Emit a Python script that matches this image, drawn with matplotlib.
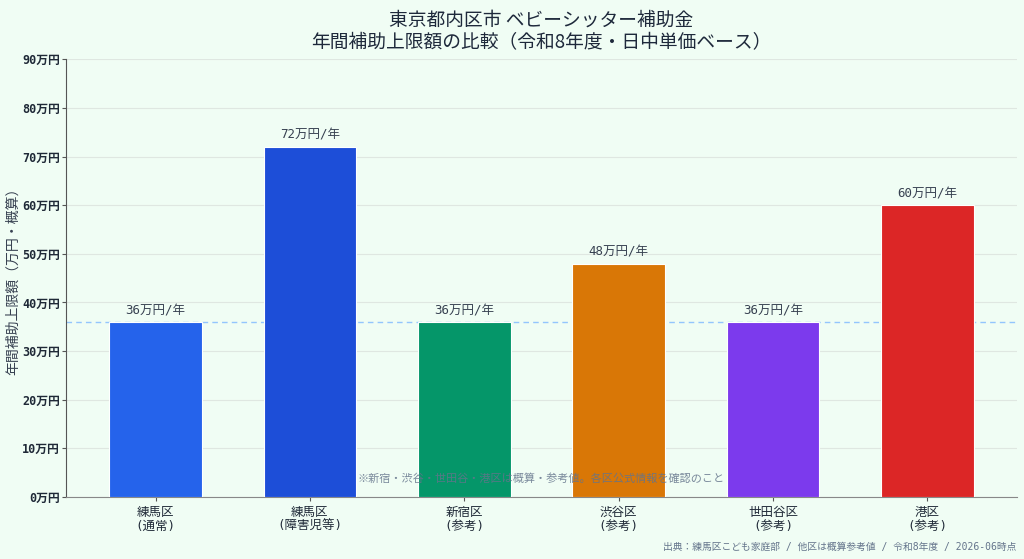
import matplotlib
matplotlib.use("Agg")
import matplotlib.pyplot as plt

categories = ["練馬区\n(通常)", "練馬区\n(障害児等)", "新宿区\n(参考)", "渋谷区\n(参考)", "世田谷区\n(参考)", "港区\n(参考)"]
values = [36, 72, 36, 48, 36, 60]
colors = ["#2563EB", "#1D4ED8", "#059669", "#D97706", "#7C3AED", "#DC2626"]
yticks = [0, 10, 20, 30, 40, 50, 60, 70, 80, 90]
baseline = 36

mono = ["DejaVu Sans Mono", "Noto Sans CJK JP"]
cjk = ["Noto Sans CJK JP", "DejaVu Sans"]
plt.rcParams["font.family"] = cjk

bg = "#F0FDF4"
fig = plt.figure(figsize=(10.24, 5.59), dpi=100, facecolor=bg)
ax = fig.add_axes([0.0645, 0.111, 0.9285, 0.783])
ax.set_facecolor(bg)

x = list(range(len(categories)))
bars = ax.bar(x, values, width=0.6, color=colors, edgecolor="white", linewidth=0.8, zorder=3)
ax.axhline(baseline, color="#93C5FD", linestyle=(0, (4, 3)), linewidth=1.0, zorder=2)

for xi, v in zip(x, values):
    ax.text(xi, v + 1.0, f"{v}万円/年", ha="center", va="bottom", fontsize=9,
            color="#374151", family=mono, zorder=4)

ax.set_ylim(0, 90)
ax.set_yticks(yticks)
ax.set_yticklabels([f"{t}万円" for t in yticks], family=mono, fontsize=8.5,
                   color="#1f2937", fontweight="bold")
ax.set_xticks(x)
ax.set_xticklabels(categories, family=mono, fontsize=9, color="#1f2937", linespacing=1.1)
ax.grid(axis="y", color="#dfe7e1", linewidth=0.8, zorder=0)
ax.set_axisbelow(True)
for s in ["top", "right"]:
    ax.spines[s].set_visible(False)
ax.spines["left"].set_color("#555555")
ax.spines["bottom"].set_color("#888888")
ax.tick_params(axis="both", length=3, color="#555555")
ax.tick_params(axis="y", pad=1.5)
ax.set_ylabel("年間補助上限額（万円・概算）", fontsize=10, color="#374151")
ax.yaxis.set_label_coords(-0.048, 0.5)

ax.set_title("東京都内区市 ベビーシッター補助金\n年間補助上限額の比較（令和8年度・日中単価ベース）",
             fontsize=13.5, color="#1e293b", pad=8, linespacing=1.1)

ax.text(0.5, 0.043, "※新宿・渋谷・世田谷・港区は概算・参考値。各区公式情報を確認のこと",
        transform=ax.transAxes, ha="center", va="center", fontsize=8,
        color="#64748b", alpha=0.85, zorder=5)

fig.text(0.993, 0.021, "出典：練馬区こども家庭部 / 他区は概算参考値 / 令和8年度 / 2026-06時点",
         ha="right", va="center", fontsize=7, color="#64748b", family=mono)

fig.savefig("out.png", dpi=100, facecolor=bg)
